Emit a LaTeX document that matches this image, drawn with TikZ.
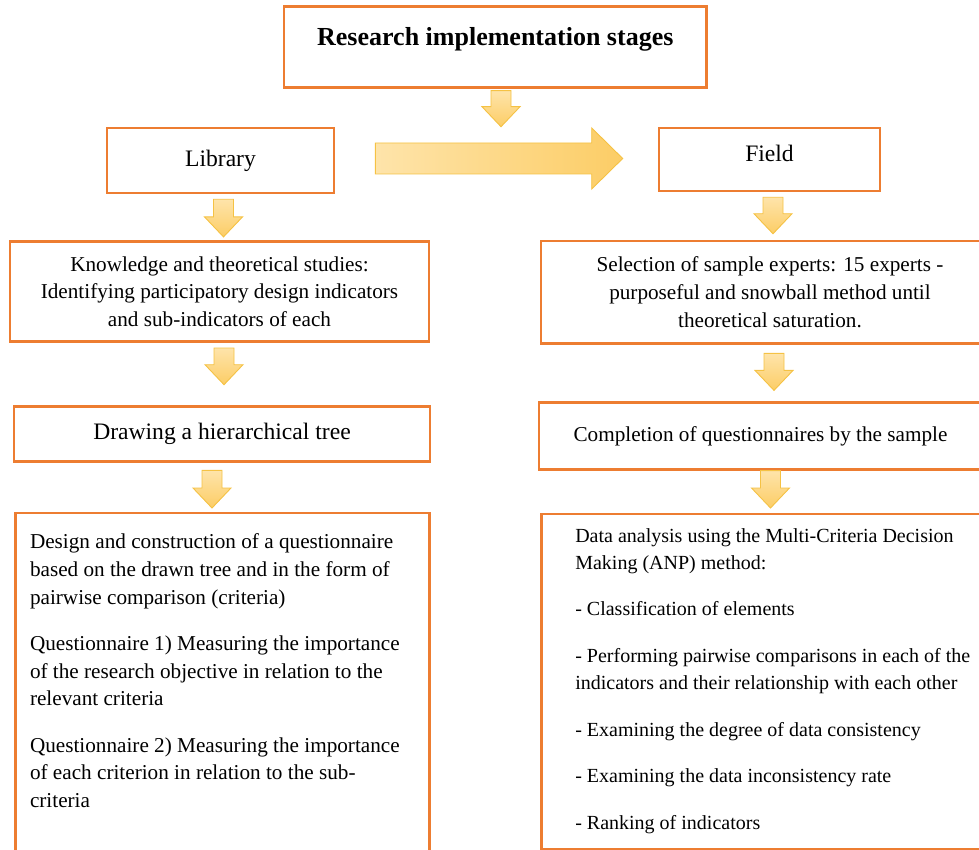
\documentclass[tikz,border=0pt]{standalone}
\usepackage{fontspec}
\setmainfont{Liberation Serif}
\usetikzlibrary{calc}

\definecolor{boxorange}{HTML}{ED7D31}
\definecolor{arrowlight}{HTML}{FEE4AA}
\definecolor{arrowdark}{HTML}{FCCD66}
\definecolor{arrowedge}{HTML}{F5C244}

\tikzset{
  stage/.style={draw=boxorange, line width=2.6pt, rectangle, fill=white, inner sep=0pt, text=black},
  blockarrow/.style={draw=arrowedge, line width=0.9pt, line join=miter}
}

% block arrow pointing down, x taken from the first point
\newcommand{\blockdown}[2]{%
  \path[blockarrow, top color=arrowlight, bottom color=arrowdark]
    let \p1=#1, \p2=#2 in
    (\x1-10pt,\y1) -- (\x1+10pt,\y1) -- (\x1+10pt,\y2+20pt) -- (\x1+19pt,\y2+20pt)
    -- (\x1,\y2) -- (\x1-19pt,\y2+20pt) -- (\x1-10pt,\y2+20pt) -- cycle;
}
% block arrow pointing right, y taken from the first point
\newcommand{\blockright}[2]{%
  \path[blockarrow, left color=arrowlight, right color=arrowdark]
    let \p1=#1, \p2=#2 in
    (\x1,\y1+15.5pt) -- (\x2-31pt,\y1+15.5pt) -- (\x2-31pt,\y1+30.5pt) -- (\x2,\y1)
    -- (\x2-31pt,\y1-30.5pt) -- (\x2-31pt,\y1-15.5pt) -- (\x1,\y1-15.5pt) -- cycle;
}

\begin{document}
\begin{tikzpicture}[
x=1pt, y=1pt,
every node/.style={font=\fontsize{21.2}{27.8}\selectfont}
]

\useasboundingbox (0,0) rectangle (979,-850);
\clip (0,0) rectangle (979,-850);

\path
(495.3,-46) node[stage, anchor=base, minimum width=422.7pt, text height=39.3pt, text depth=41.3pt, font=\fontsize{26}{30}\selectfont\bfseries] (title) {Research implementation stages}

(220.5,-160.5) node[stage, minimum width=227pt, minimum height=65pt, font=\fontsize{23.6}{28}\selectfont] (lib) {Library}
(769.5,-162) node[stage, anchor=base, minimum width=221pt, text height=34pt, text depth=29pt, font=\fontsize{23.6}{28}\selectfont] (field) {Field}

(219.5,-291.7) node[stage, minimum width=419pt, minimum height=100pt, align=center] (know) {Knowledge and theoretical studies:\\ Identifying participatory design indicators\\ and sub-indicators of each}
(770,-292.2) node[stage, minimum width=458pt, minimum height=102.3pt, align=center] (select) {Selection of sample experts: 15 experts -\\ purposeful and snowball method until\\ theoretical saturation.}

(222,-434.2) node[stage, minimum width=416pt, minimum height=55pt, font=\fontsize{23.6}{28}\selectfont] (tree) {Drawing a hierarchical tree}
(760.5,-436) node[stage, minimum width=443pt, minimum height=66.6pt] (complete) {Completion of questionnaires by the sample}
;

\node[stage, anchor=north west, inner xsep=14.7pt, inner ysep=20.5pt] (design) at (14,-511.7)
  {\begin{minipage}[t][350pt][t]{384.6pt}\raggedright
   Design and construction of a questionnaire\\
   based on the drawn tree and in the form of\\
   pairwise comparison (criteria)\\[18.4pt]
   Questionnaire 1) Measuring the importance\\
   of the research objective in relation to the\\
   relevant criteria\\[18.4pt]
   Questionnaire 2) Measuring the importance\\
   of each criterion in relation to the sub-\\
   criteria
   \end{minipage}};

\node[stage, anchor=north west, inner xsep=34pt, inner ysep=14.2pt, font=\fontsize{20}{27}\selectfont] (data) at (540,-512.7)
  {\begin{minipage}[t][307.2pt][t]{440pt}\raggedright
   Data analysis using the Multi-Criteria Decision\\
   Making (ANP) method:\\[19.7pt]
   - Classification of elements\\[19.7pt]
   - Performing pairwise comparisons in each of the\\
   indicators and their relationship with each other\\[19.7pt]
   - Examining the degree of data consistency\\[19.7pt]
   - Examining the data inconsistency rate\\[19.7pt]
   - Ranking of indicators
   \end{minipage}};

\blockdown{($(title.south)+(5.7,-2)$)}{(lib.north)}
\blockright{($(lib.east)+(40,2)$)}{($(field.west)+(-35,0)$)}
\blockdown{($(lib.south)+(3,-5)$)}{($(know.north)+(0,3.5)$)}
\blockdown{($(know.south)+(4.5,-5)$)}{($(tree.north)+(0,20.7)$)}
\blockdown{($(tree.south)+(-10,-7.3)$)}{($(design.north)+(0,3.7)$)}
\blockdown{($(field.south)+(3.5,-5)$)}{($(select.north)+(0,6)$)}
\blockdown{($(select.south)+(4,-8.7)$)}{($(complete.north)+(0,11)$)}
\blockdown{($(complete.south)+(10,0)$)}{($(data.north)+(0,4.7)$)}

\end{tikzpicture}
\end{document}
